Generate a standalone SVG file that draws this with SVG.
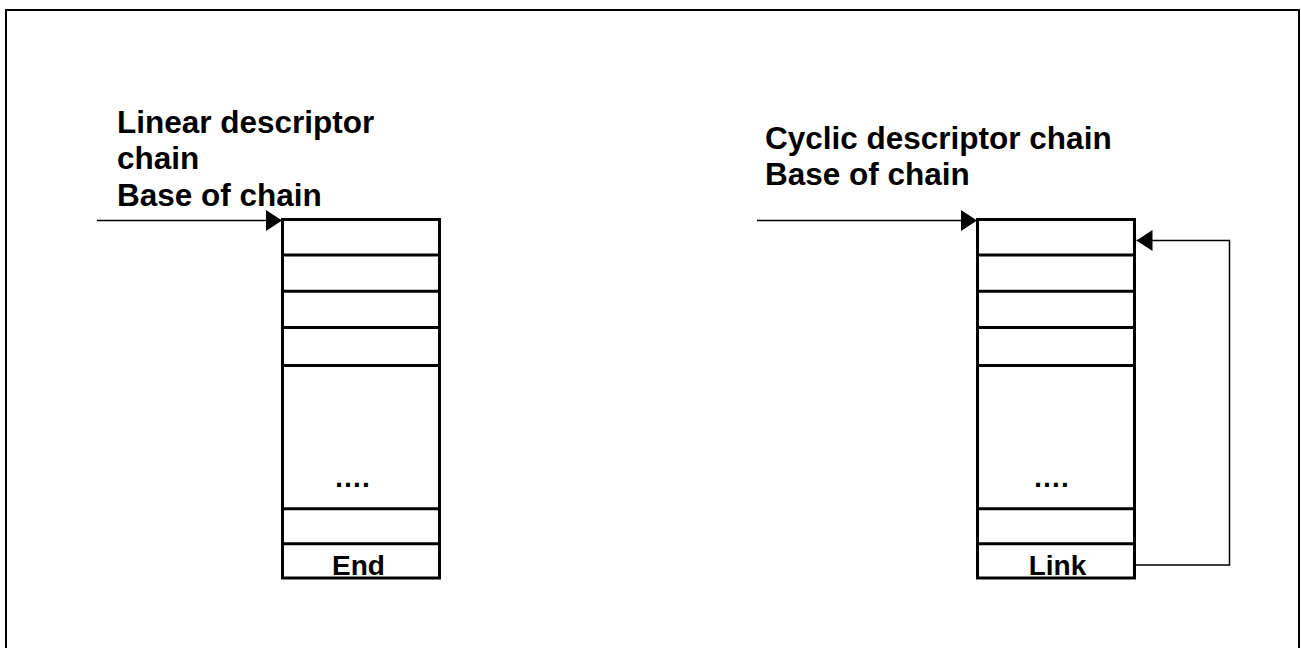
<svg xmlns="http://www.w3.org/2000/svg" width="1301" height="648" viewBox="0 0 1301 648">
<style>
.frame{fill:none;stroke:#000;stroke-width:2}
.cell{fill:#fff;stroke:#000;stroke-width:3}
.sep{stroke:#000;stroke-width:3}
.conn{fill:none;stroke:#000;stroke-width:1.5}
.title{font-family:"Liberation Sans",Arial,sans-serif;font-weight:bold;font-size:31.5px;fill:#000}
.lbl{font-family:"Liberation Sans",Arial,sans-serif;font-weight:bold;font-size:28px;fill:#000}
</style>
<defs>
<marker id="arr" markerUnits="userSpaceOnUse" markerWidth="17" markerHeight="21" refX="16" refY="10.5" orient="auto">
<path d="M0,0 L16,10.5 L0,21 Z" fill="#000"/>
</marker>
</defs>
<rect class="frame" x="6" y="10" width="1293" height="660"/>
<g id="label-linear">
<text class="title" x="117" y="132.5">Linear descriptor</text>
<text class="title" x="117" y="169">chain</text>
<text class="title" x="117" y="206">Base of chain</text>
</g>
<g id="label-cyclic">
<text class="title" x="765" y="148.5">Cyclic descriptor chain</text>
<text class="title" x="765" y="185">Base of chain</text>
</g>
<g id="linear-chain">
<rect class="cell" x="282.5" y="219.5" width="157" height="358.5"/>
<line class="sep" x1="282.5" y1="255" x2="439.5" y2="255"/>
<line class="sep" x1="282.5" y1="291.3" x2="439.5" y2="291.3"/>
<line class="sep" x1="282.5" y1="327.5" x2="439.5" y2="327.5"/>
<line class="sep" x1="282.5" y1="365.5" x2="439.5" y2="365.5"/>
<line class="sep" x1="282.5" y1="508.7" x2="439.5" y2="508.7"/>
<line class="sep" x1="282.5" y1="543.7" x2="439.5" y2="543.7"/>
<text class="lbl" x="352" y="487" text-anchor="middle">….</text>
<text class="lbl" x="358.5" y="575" text-anchor="middle">End</text>
</g>
<g id="cyclic-chain">
<rect class="cell" x="977.5" y="219.5" width="157" height="358.5"/>
<line class="sep" x1="977.5" y1="255" x2="1134.5" y2="255"/>
<line class="sep" x1="977.5" y1="291.3" x2="1134.5" y2="291.3"/>
<line class="sep" x1="977.5" y1="327.5" x2="1134.5" y2="327.5"/>
<line class="sep" x1="977.5" y1="365.5" x2="1134.5" y2="365.5"/>
<line class="sep" x1="977.5" y1="508.7" x2="1134.5" y2="508.7"/>
<line class="sep" x1="977.5" y1="543.7" x2="1134.5" y2="543.7"/>
<text class="lbl" x="1051" y="487" text-anchor="middle">….</text>
<text class="lbl" x="1057.5" y="575" text-anchor="middle">Link</text>
</g>
<g id="connectors">
<line class="conn" x1="97" y1="220.5" x2="282" y2="220.5" marker-end="url(#arr)"/>
<line class="conn" x1="757" y1="220.5" x2="977" y2="220.5" marker-end="url(#arr)"/>
<polyline class="conn" points="1134.5,565 1229.5,565 1229.5,240.5 1136.5,240.5" marker-end="url(#arr)"/>
</g>
</svg>
